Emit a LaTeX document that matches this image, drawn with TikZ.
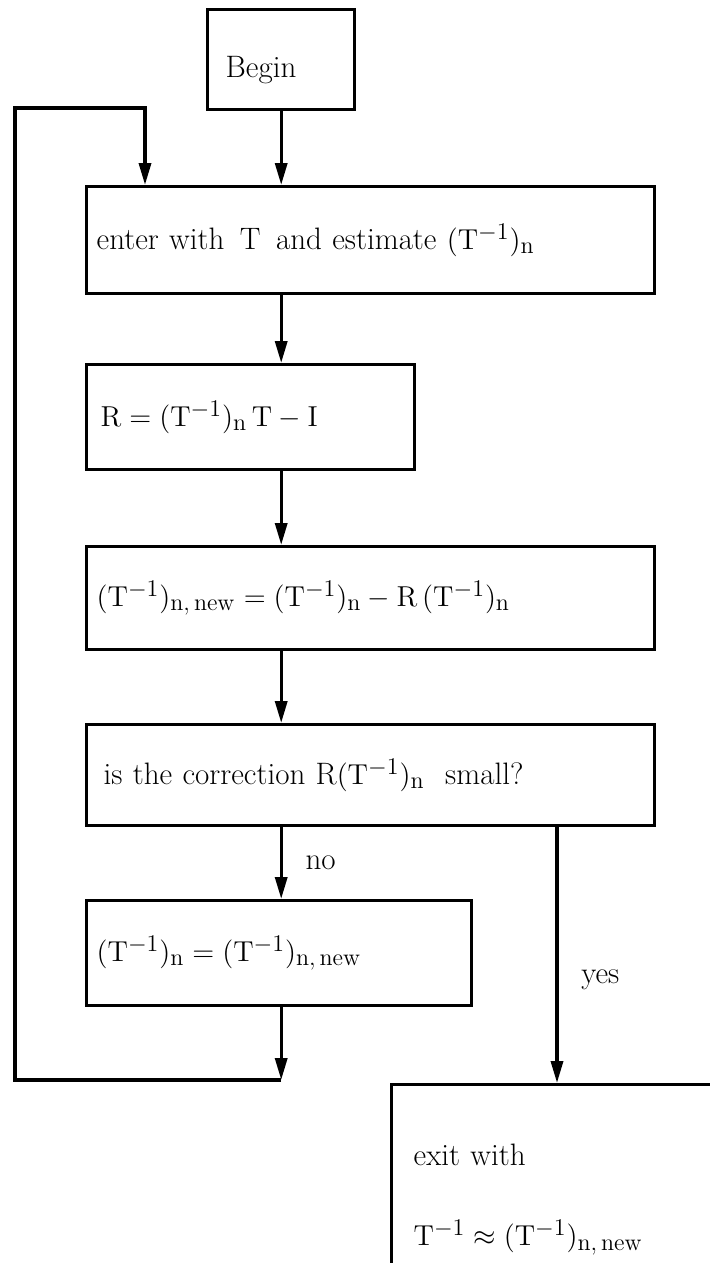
\documentclass[tikz,border=0pt]{standalone}
\usepackage{amsmath}
\usepackage{amssymb}
\usepackage{tikz}
\usetikzlibrary{arrows.meta}
\DeclareMathSizes{15.5}{15.5}{12}{9}

\begin{document}
\begin{tikzpicture}[x=0.5pt, y=-0.5pt,
    font=\fontsize{15.5}{18}\selectfont,
    box/.style={draw, line width=1.7pt, anchor=north west, align=left, inner ysep=0pt},
    flow/.style={line width=1.7pt, -{Triangle[length=11pt, width=6pt]}},
    line/.style={line width=1.7pt}]
  \clip (0,0) rectangle (710,1263);
  \node[box, inner xsep=9pt, text width=55.5pt, minimum height=50pt, text height=21pt] (begin) at (206,8) {Begin};
  \node[box, inner xsep=5pt, text width=274pt, minimum height=53.5pt] (enter) at (85,185) {enter with \,T\, and estimate $(\mathrm{T}^{-1})_{\mathrm{n}}$};
  \node[box, inner xsep=7pt, text width=150pt, minimum height=52.5pt] (resid) at (85,363) {$\mathrm{R}=(\mathrm{T}^{-1})_{\mathrm{n}}\,\mathrm{T}-\mathrm{I}$};
  \node[box, inner xsep=5pt, text width=274pt, minimum height=51.5pt] (update) at (85,545) {$(\mathrm{T}^{-1})_{\mathrm{n,\,new}}=(\mathrm{T}^{-1})_{\mathrm{n}}-\mathrm{R}\,(\mathrm{T}^{-1})_{\mathrm{n}}$};
  \node[box, inner xsep=8.5pt, text width=267pt, minimum height=50.5pt] (test) at (85,723) {is the correction R$(\mathrm{T}^{-1})_{\mathrm{n}}$ \ small?};
  \node[box, inner xsep=5pt, text width=182.5pt, minimum height=52.5pt] (assign) at (85,899) {$(\mathrm{T}^{-1})_{\mathrm{n}}=(\mathrm{T}^{-1})_{\mathrm{n,\,new}}$};
  \node[box, inner xsep=11pt, text width=178pt, minimum height=115pt] (exit) at (390,1083) {exit with\\[22pt] $\mathrm{T}^{-1}\approx(\mathrm{T}^{-1})_{\mathrm{n,\,new}}$};
  \coordinate (back) at (begin.south |- 0,1080);
  \coordinate (loopin) at (145,185);
  \coordinate (yes) at (557,824);
  \draw[flow] (begin.south) -- (begin.south |- enter.north);
  \draw[flow] (begin.south |- enter.south) -- (begin.south |- resid.north);
  \draw[flow] (begin.south |- resid.south) -- (begin.south |- update.north);
  \draw[flow] (begin.south |- update.south) -- (begin.south |- test.north);
  \draw[flow] (begin.south |- test.south) -- node[right=8pt] (no) {no} (begin.south |- assign.north);
  \draw[flow] (begin.south |- assign.south) -- (back);
  \draw[line] (back) -| (15,108) -| (145,150);
  \draw[flow] (145,140) -- (loopin);
  \draw[flow] (yes) -- node[pos=0.6, right=8pt] (yeslabel) {yes} (yes |- exit.north);
\end{tikzpicture}
\end{document}
